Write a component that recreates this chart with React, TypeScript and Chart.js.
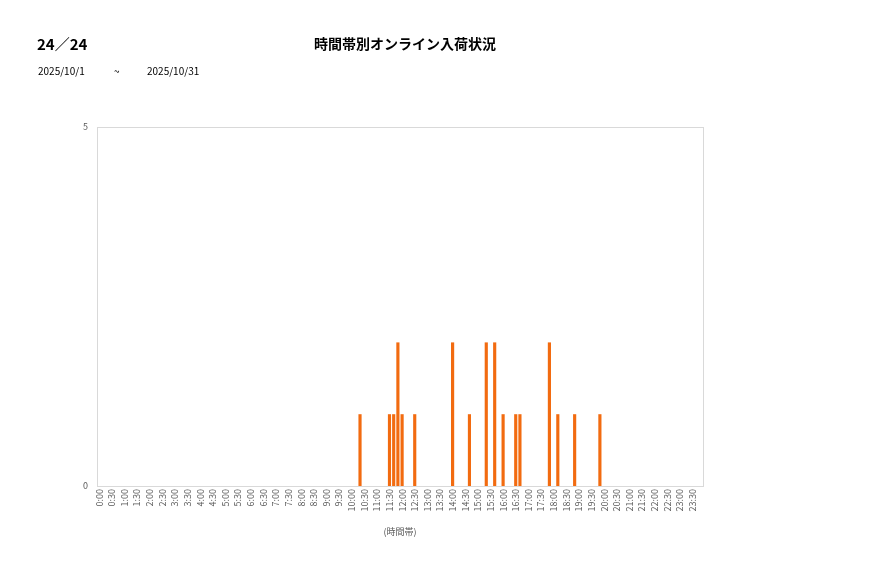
import { Chart, registerables } from "chart.js";
import type { Plugin as ChartPlugin, Scale } from "chart.js";
import { useEffect, useRef } from "react";

Chart.register(...registerables);

// 10-minute slots, 0:00 .. 23:50 (labels shown every 30 min)
const slotLabels: string[] = [];
for (let h = 0; h < 24; h++) {
    for (let m = 0; m < 60; m += 10) {
        slotLabels.push(`${h}:${m === 0 ? "00" : m}`);
    }
}

// arrivals
const arrivalTimes = ["10:20", "11:30", "11:40", "11:50", "12:00", "12:30", "14:00", "14:40", "15:20", "15:40", "16:00", "16:30", "16:40", "17:50", "18:10", "18:50", "19:50"];
const arrivalCounts = [1, 1, 1, 2, 1, 1, 2, 1, 2, 2, 1, 1, 1, 2, 1, 1, 1];

const yTicks = [0, 5];

const pageTitle = "時間帯別オンライン入荷状況";
const pageNo = "24／24";
const dateFrom = "2025/10/1";
const dateTo = "2025/10/31";
const xAxisTitle = "(時間帯)";

const barColor = "#F26B10";
const gray = "#595959";
const fontFamily = "'Noto Sans CJK JP', 'Noto Sans', sans-serif";

const counts = slotLabels.map((s) => {
    const i = arrivalTimes.indexOf(s);
    return i >= 0 ? arrivalCounts[i] : 0;
});

const boxPlugin: ChartPlugin = {
    id: "boxPlugin",
    beforeDatasetsDraw: (chart: Chart) => {
        const { ctx, chartArea } = chart;
        ctx.save();
        ctx.strokeStyle = "#d9d9d9";
        ctx.lineWidth = 1;
        ctx.strokeRect(Math.round(chartArea.left) + 0.5, Math.round(chartArea.top) + 0.5, Math.round(chartArea.width), Math.round(chartArea.height));
        ctx.restore();
    },
};

const ArrivalChart: React.FC = () => {
    const canvasRef = useRef<HTMLCanvasElement>(null);

    useEffect(() => {
        if (!canvasRef.current) {
            return;
        }
        const chart = new Chart(canvasRef.current, {
            type: "bar",
            data: {
                labels: slotLabels,
                datasets: [{
                    data: counts,
                    backgroundColor: barColor,
                    borderWidth: 0,
                    categoryPercentage: 1,
                    barPercentage: 0.75,
                }],
            },
            options: {
                responsive: false,
                animation: false,
                layout: { padding: { top: 127, right: 174, left: 0, bottom: 37 } },
                scales: {
                    x: {
                        grid: { display: false, drawTicks: false },
                        border: { display: false },
                        afterFit: (scale: Scale) => { scale.height = 55; },
                        ticks: {
                            autoSkip: false,
                            minRotation: 90,
                            maxRotation: 90,
                            padding: 3,
                            color: gray,
                            font: { family: fontFamily, size: 9 },
                            callback: (_v, idx) => (idx % 3 === 0 ? slotLabels[idx] : ""),
                        },
                        title: {
                            display: true,
                            text: xAxisTitle,
                            color: gray,
                            font: { family: fontFamily, size: 9 },
                        },
                    },
                    y: {
                        min: yTicks[0],
                        max: yTicks[yTicks.length - 1],
                        grid: { display: false, drawTicks: false },
                        border: { display: false },
                        afterFit: (scale: Scale) => { scale.width = 97; },
                        afterBuildTicks: (scale: Scale) => { scale.ticks = yTicks.map((v) => ({ value: v })); },
                        ticks: {
                            padding: 9,
                            color: gray,
                            font: { family: fontFamily, size: 9 },
                        },
                    },
                },
                plugins: {
                    legend: { display: false },
                    tooltip: { enabled: false },
                },
            },
            plugins: [boxPlugin],
        });
        return () => {
            chart.destroy();
        };
    }, []);

    return <canvas ref={canvasRef} width={877} height={578} style={{ position: "absolute", left: 0, top: 0 }} />;
};

export default function App() {
    return (
        <div style={{ position: "fixed", left: 0, top: 0, width: 877, height: 578, background: "#fff", fontFamily, color: "#000" }}>
            <ArrivalChart />
            <div style={{ position: "absolute", left: 37, top: 33, fontSize: 15, fontWeight: "bold" }}>{pageNo}</div>
            <div style={{ position: "absolute", left: 314, top: 33, fontSize: 14, fontWeight: "bold" }}>{pageTitle}</div>
            <div style={{ position: "absolute", left: 38, top: 63, fontSize: 10 }}>{dateFrom}</div>
            <div style={{ position: "absolute", left: 114, top: 63, fontSize: 10 }}>~</div>
            <div style={{ position: "absolute", left: 147, top: 63, fontSize: 10 }}>{dateTo}</div>
        </div>
    );
}
